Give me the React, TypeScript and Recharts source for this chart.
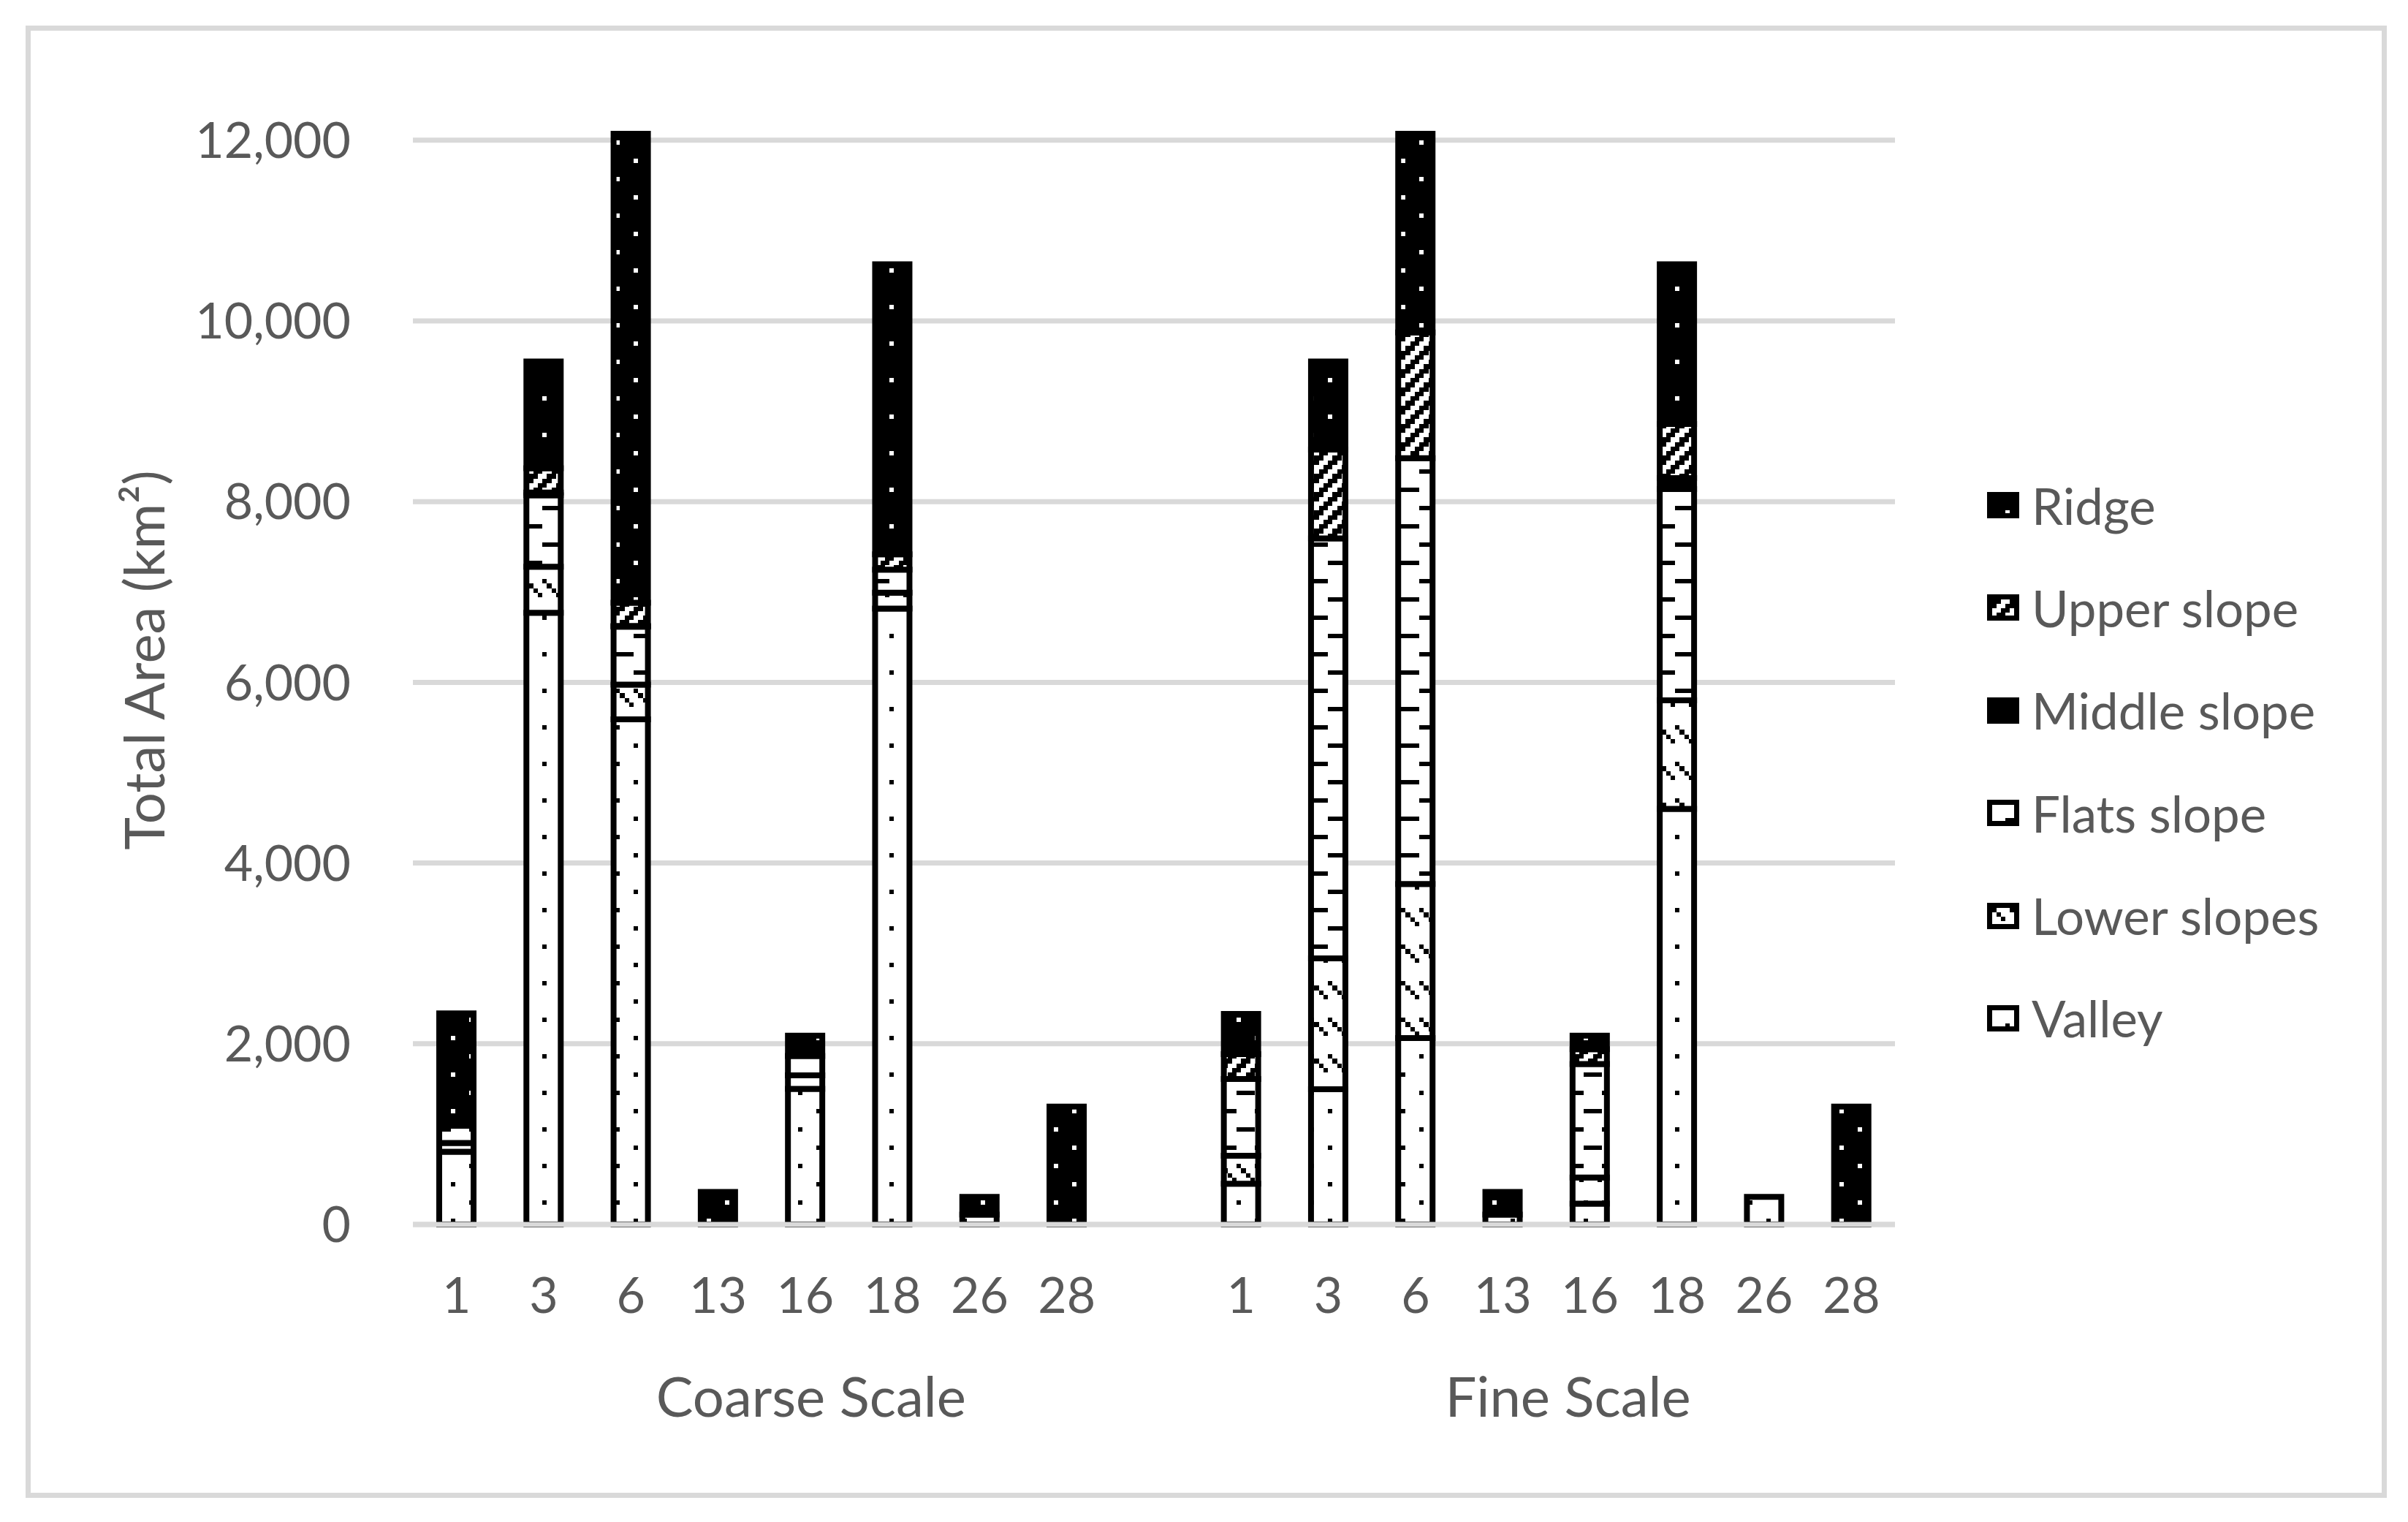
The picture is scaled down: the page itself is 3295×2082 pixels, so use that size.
import React from "react";
import { BarChart, Bar, XAxis, YAxis, CartesianGrid, Legend, Label } from "recharts";

// categories: 8 sites per scale, with an empty slot between the two groups
const sites = ["1", "3", "6", "13", "16", "18", "26", "28", "", "1", "3", "6", "13", "16", "18", "26", "28"];
const scales = [
  "Coarse Scale", "Coarse Scale", "Coarse Scale", "Coarse Scale", "Coarse Scale", "Coarse Scale", "Coarse Scale", "Coarse Scale",
  "",
  "Fine Scale", "Fine Scale", "Fine Scale", "Fine Scale", "Fine Scale", "Fine Scale", "Fine Scale", "Fine Scale",
];

// area in km2
const valley = [805, 6770, 5590, 0, 1500, 6816, 110, 0, null, 452, 1496, 2064, 110, 230, 4600, 305, 0];
const lowerSlopes = [97, 510, 385, 0, 150, 176, 0, 0, null, 308, 1448, 1704, 0, 290, 1200, 0, 0];
const flatsSlope = [191, 790, 640, 0, 215, 256, 0, 0, null, 850, 4648, 4712, 0, 1255, 2340, 0, 0];
const middleSlope = [10, 30, 10, 0, 0, 0, 0, 0, null, 0, 0, 0, 0, 0, 120, 0, 0];
const upperSlope = [59, 270, 256, 0, 0, 168, 0, 0, null, 275, 984, 1392, 0, 165, 600, 0, 0];
const ridge = [1175, 1180, 5190, 360, 225, 3210, 195, 1305, null, 445, 974, 2199, 250, 150, 1766, 0, 1305];

const yTicks = [0, 2000, 4000, 6000, 8000, 10000, 12000];

const data = sites.map((site, i) => ({
  site,
  scale: scales[i],
  Valley: valley[i],
  "Lower slopes": lowerSlopes[i],
  "Flats slope": flatsSlope[i],
  "Middle slope": middleSlope[i],
  "Upper slope": upperSlope[i],
  Ridge: ridge[i],
}));

const series = [
  { key: "Valley", fill: "url(#pat-valley)" },
  { key: "Lower slopes", fill: "url(#pat-lower)" },
  { key: "Flats slope", fill: "url(#pat-flats)" },
  { key: "Middle slope", fill: "#000000" },
  { key: "Upper slope", fill: "url(#pat-upper)" },
  { key: "Ridge", fill: "url(#pat-ridge)" },
];

const TEXT = "#595959";
const FONT = "Lato";
const BIT = 6.25;

function BitPattern({ id, rows, bg, fg }: { id: string; rows: string[]; bg: string; fg: string }) {
  const w = rows[0].length * BIT;
  const h = rows.length * BIT;
  return (
    <pattern id={id} patternUnits="userSpaceOnUse" width={w} height={h}>
      <rect width={w} height={h} fill={bg} />
      {rows.flatMap((r, y) =>
        r.split("").map((c, x) =>
          c === "1" ? (
            <rect key={`${x}-${y}`} x={x * BIT} y={y * BIT} width={BIT} height={BIT} fill={fg} shapeRendering="crispEdges" />
          ) : null
        )
      )}
    </pattern>
  );
}

const sparseDots = ["10000000", "00000000", "00000000", "00000000", "00001000", "00000000", "00000000", "00000000"];

function Patterns() {
  return (
    <defs>
      <BitPattern id="pat-ridge" rows={sparseDots} bg="#000" fg="#fff" />
      <BitPattern id="pat-valley" rows={sparseDots} bg="#fff" fg="#000" />
      <BitPattern id="pat-upper" rows={["0011", "0110", "1100", "1001"]} bg="#fff" fg="#000" />
      <BitPattern
        id="pat-flats"
        rows={["11110000", "00000000", "00000000", "00000000", "00001111", "00000000", "00000000", "00000000"]}
        bg="#fff"
        fg="#000"
      />
      <BitPattern
        id="pat-lower"
        rows={["10001000", "01000100", "00100010", "00010001", "00000000", "00000000", "00000000", "00000000"]}
        bg="#fff"
        fg="#000"
      />
    </defs>
  );
}

const groupOffsets: Record<number, number> = { 4: 8, 13: -30 };

function GroupTick(props: any) {
  const { x, y, payload, index } = props;
  const dx = groupOffsets[index];
  if (dx === undefined) return <g />;
  return (
    <text x={x + dx} y={y} textAnchor="middle" fill={TEXT} fontSize={76} fontFamily={FONT}>
      {payload.value}
    </text>
  );
}

function LegendBox(props: any) {
  const payload = props.payload ?? [];
  // legend lists the stack top-down
  const items = [...series]
    .reverse()
    .map((s) => payload.find((p: any) => p.value === s.key || p.dataKey === s.key))
    .filter(Boolean);
  return (
    <div style={{ width: 540, paddingLeft: 126, boxSizing: "border-box", fontFamily: FONT, color: TEXT, fontSize: 69 }}>
      {items.map((it: any) => (
        <div key={it.value} style={{ height: 140.4, display: "flex", alignItems: "center" }}>
          <svg width={44} height={36} style={{ marginRight: 17, flex: "none" }}>
            <rect x={3.5} y={3.5} width={37} height={29} fill={it.color} stroke="#000" strokeWidth={7} />
          </svg>
          <span style={{ whiteSpace: "nowrap" }}>{it.value}</span>
        </div>
      ))}
    </div>
  );
}

function YTitle(props: any) {
  const vb = props.viewBox;
  const bx = vb.x - 40;
  const cy = vb.y + vb.height / 2 - 26;
  return (
    <text transform={`translate(${bx},${cy}) rotate(-90)`} textAnchor="middle" fill={TEXT} fontSize={76} fontFamily={FONT}>
      Total Area (km²)
    </text>
  );
}

export default function App() {
  return (
    <div
      style={{
        position: "absolute",
        left: 35,
        top: 35,
        width: 3217,
        height: 2000,
        border: "7px solid #d9d9d9",
        background: "#fff",
      }}
    >
      <BarChart width={3217} height={2000} data={data} margin={{ top: 141, right: 126, left: 223, bottom: 87 }} barSize={47}>
        <Patterns />
        <CartesianGrid vertical={false} horizontalValues={yTicks} stroke="#d9d9d9" strokeWidth={7} />
        <YAxis
          width={300}
          domain={[0, 12000]}
          ticks={yTicks}
          tickFormatter={(v: number) => v.toLocaleString("en-US")}
          axisLine={false}
          tickLine={false}
          tickSize={0}
          tickMargin={85}
          tick={{ fill: TEXT, fontSize: 68, fontFamily: FONT }}
        >
          <Label content={<YTitle />} />
        </YAxis>
        {series.map((s) => (
          <Bar key={s.key} dataKey={s.key} stackId="a" fill={s.fill} stroke="#000" strokeWidth={8} isAnimationActive={false} />
        ))}
        <XAxis
          dataKey="site"
          height={120}
          interval={0}
          axisLine={{ stroke: "#d9d9d9", strokeWidth: 7 }}
          tickLine={false}
          tickSize={0}
          tickMargin={73}
          tick={{ fill: TEXT, fontSize: 68, fontFamily: FONT }}
        />
        <XAxis
          xAxisId="grp"
          dataKey="scale"
          height={160}
          interval={0}
          axisLine={false}
          tickLine={false}
          tickSize={0}
          tickMargin={143}
          tick={(p: any) => <GroupTick {...p} />}
        />
        <Legend layout="vertical" align="right" verticalAlign="middle" content={<LegendBox />} />
      </BarChart>
    </div>
  );
}
